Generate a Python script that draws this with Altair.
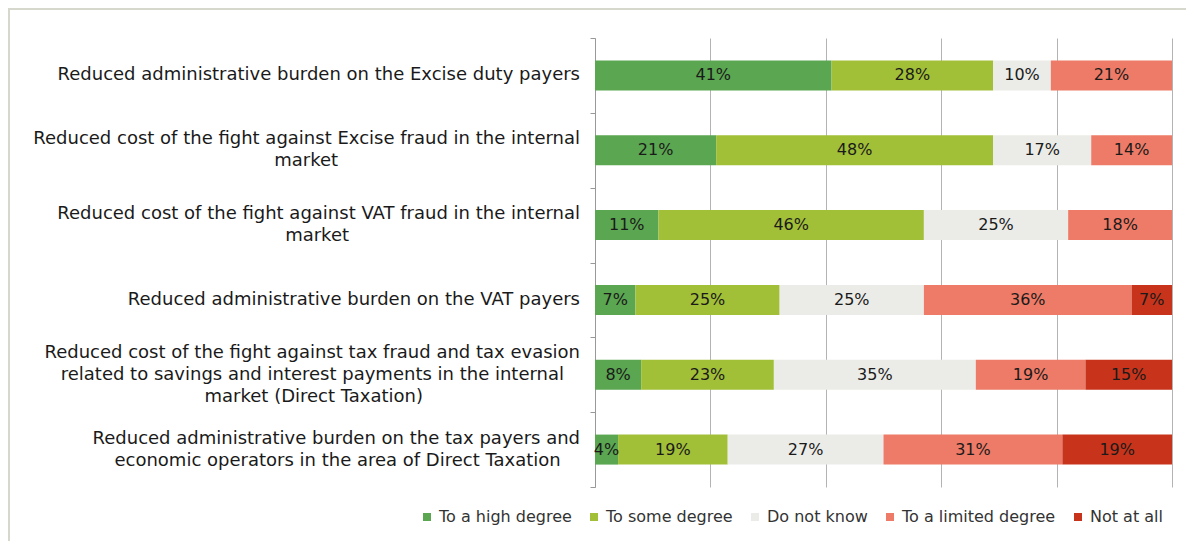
import altair as alt
import pandas as pd

categories = [
    "Reduced administrative burden on the Excise duty payers",
    "Reduced cost of the fight against Excise fraud in the internal|market",
    "Reduced cost of the fight against VAT fraud in the internal|market",
    "Reduced administrative burden on the VAT payers",
    "Reduced cost of the fight against tax fraud and tax evasion|related to savings and interest payments in the internal|market (Direct Taxation)",
    "Reduced administrative burden on the tax payers and|economic operators in the area of Direct Taxation",
]
series = ["To a high degree", "To some degree", "Do not know", "To a limited degree", "Not at all"]
colors = ["#5aa651", "#a2bf38", "#ebebe7", "#ee7b67", "#c8341b"]

high = [41, 21, 11, 7, 8, 4]
some = [28, 48, 46, 25, 23, 19]
dontknow = [10, 17, 25, 25, 35, 27]
limited = [21, 14, 18, 36, 19, 31]
notatall = [0, 0, 0, 7, 15, 19]

rows = []
for i, c in enumerate(categories):
    for j, (s, vals) in enumerate(zip(series, [high, some, dontknow, limited, notatall])):
        if vals[i] > 0:
            rows.append({"category": c, "series": s, "order": j, "value": vals[i]})
df = pd.DataFrame(rows)

# approximate DejaVu Sans advance widths (em) used to centre the shorter label lines
W = {"a": .613, "b": .635, "c": .55, "d": .635, "e": .615, "f": .352, "g": .635, "h": .634,
     "i": .278, "j": .278, "k": .579, "l": .278, "m": .974, "n": .634, "o": .612, "p": .635,
     "q": .635, "r": .411, "s": .521, "t": .392, "u": .634, "v": .592, "w": .818, "x": .592,
     "y": .592, "z": .525, " ": .318, "(": .39, ")": .39, "R": .695, "D": .77, "T": .611,
     "E": .632, "V": .684, "A": .684}
LABEL_SIZE = 18
LINE_H = 22
PLOT_H = 449
STEP = PLOT_H / len(categories)
LABEL_GAP = 15

def tw(s):
    return sum(W.get(ch, .6) for ch in s) * LABEL_SIZE

label_rows = []
for c in categories:
    lines = c.split("|")
    n = len(lines)
    wmax = max(tw(l) for l in lines)
    for k, l in enumerate(lines):
        label_rows.append({"category": c, "line": l,
                           "xpos": -LABEL_GAP - (wmax - tw(l)) / 2,
                           "yoff": STEP / 2 + (k - (n - 1) / 2) * LINE_H})
labels_df = pd.DataFrame(label_rows)

yenc = alt.Y(
    "category:N", sort=categories, title=None,
    scale=alt.Scale(paddingInner=0, paddingOuter=0),
    axis=alt.Axis(
        labels=False, domainColor="#999999", tickColor="#999999", tickSize=5,
        tickBand="extent", grid=False,
    ),
)

base = alt.Chart(df).transform_stack(
    stack="value", groupby=["category"], as_=["start", "end"],
    sort=[alt.SortField("order", order="ascending")]
).transform_calculate(
    mid="(datum.start + datum.end) / 2",
    lbl="datum.value + '%'"
)

xscale = alt.Scale(domain=[0, 100], nice=False)

bars = base.mark_bar(size=30).encode(
    y=yenc,
    x=alt.X("start:Q", scale=xscale,
            axis=alt.Axis(labels=False, ticks=False, domain=False, title=None,
                          values=[0, 20, 40, 60, 80, 100], grid=True,
                          gridColor="#b3b3b3", gridWidth=1)),
    x2="end:Q",
    color=alt.Color("series:N", scale=alt.Scale(domain=series, range=colors),
                    legend=alt.Legend(
                        title=None, orient="none", direction="horizontal",
                        legendX=-176, legendY=471, symbolType="square",
                        symbolSize=64, symbolStrokeWidth=0,
                        labelFont="DejaVu Sans", labelFontSize=16,
                        labelColor="#333333", columnPadding=14, labelOffset=4,
                    )),
)

text = base.mark_text(font="DejaVu Sans", fontSize=16, color="#1a1a1a").encode(
    y=alt.Y("category:N", sort=categories),
    x=alt.X("mid:Q", scale=xscale, axis=None),
    text="lbl:N",
)

ylabels = alt.Chart(labels_df).mark_text(
    font="DejaVu Sans", fontSize=LABEL_SIZE, color="#1a1a1a", align="right", baseline="middle"
).encode(
    y=alt.Y("category:N", sort=categories),
    yOffset=alt.YOffset("yoff:Q", scale=None),
    x=alt.X("xpos:Q", scale=None, axis=None),
    text="line:N",
)

border = alt.Chart(pd.DataFrame({"a": [0]})).mark_rect(
    fill=None, stroke="#d6d7cd", strokeWidth=2
).encode(
    x=alt.value(-586), x2=alt.value(700), y=alt.value(-29), y2=alt.value(600)
)

chart = alt.layer(border, bars, text, ylabels).resolve_scale(x="independent").properties(
    width=577, height=PLOT_H,
    autosize=alt.AutoSizeParams(type="none"),
    padding={"left": 587, "top": 30, "right": 14, "bottom": 54},
).configure_view(stroke=None)

chart.save("out.html", embed_options={"renderer": "svg", "actions": False})
